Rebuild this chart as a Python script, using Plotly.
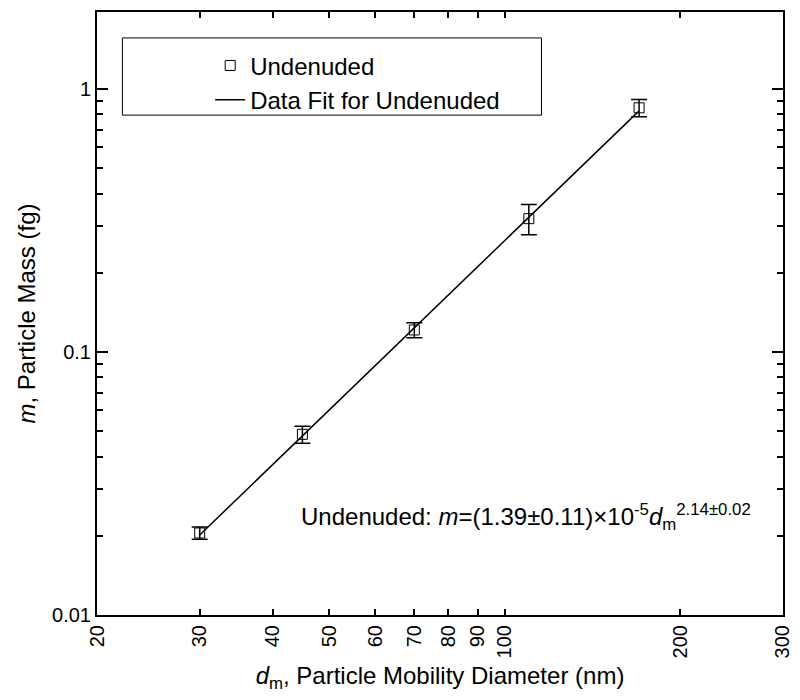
import plotly.graph_objects as go

# Measured particle mass vs mobility diameter (undenuded particles)
diameter_nm = [30, 45, 70, 110, 170]
mass_fg = [0.0205, 0.0486, 0.1212, 0.321, 0.847]
mass_err = [0.0011, 0.0036, 0.0080, 0.042, 0.063]

# Power-law fit m = a * d^b, evaluated over the measured diameter span
fit_coef = 1.39e-5
fit_exp = 2.14
fit_d = [30, 170]
fit_m = [fit_coef * d ** fit_exp for d in fit_d]

x_tick_vals = [20, 30, 40, 50, 60, 70, 80, 90, 100, 200, 300]
x_tick_text = ["20", "30", "40", "50", "60", "70", "80", "90", "100", "200", "300"]
y_tick_vals = [0.01, 0.1, 1]
y_tick_text = ["0.01", "0.1", "1"]
y_minor_vals = [k * 10 ** e for e in (-2, -1) for k in range(2, 10)]

FONT = "Liberation Sans, Arial, sans-serif"

fig = go.Figure()

fig.add_trace(go.Scatter(
    x=diameter_nm, y=mass_fg,
    mode="markers",
    name="Undenuded",
    marker=dict(symbol="square-open", size=10, color="black",
                line=dict(width=1, color="black")),
    error_y=dict(type="data", array=mass_err, visible=True,
                 color="black", thickness=1.5, width=8),
))

fig.add_trace(go.Scatter(
    x=fit_d, y=fit_m,
    mode="lines",
    name="Data Fit for Undenuded",
    line=dict(color="black", width=1.5),
))

axis_common = dict(
    showline=True, linecolor="black", linewidth=2,
    mirror="ticks", ticks="inside", tickcolor="black", tickwidth=1.5,
    showgrid=False, zeroline=False,
    ticklabeloverflow="allow",
    tickfont=dict(family=FONT, size=20, color="black"),
)

fig.update_xaxes(
    type="log",
    range=[1.30103, 2.4772],
    tickmode="array", tickvals=x_tick_vals, ticktext=x_tick_text,
    tickangle=-90, ticklen=6,
    title=dict(text="<i>d</i><sub>m</sub>, Particle Mobility Diameter (nm)",
               font=dict(family=FONT, size=24, color="black"), standoff=10),
    **axis_common,
)

fig.update_yaxes(
    type="log",
    range=[-2, 0.292],
    tickmode="array", tickvals=y_tick_vals, ticktext=y_tick_text,
    ticklen=11,
    minor=dict(tickmode="array", tickvals=y_minor_vals, ticks="inside",
               ticklen=6, tickcolor="black", tickwidth=1.5),
    title=dict(text="<i>m</i>, Particle Mass (fg)",
               font=dict(family=FONT, size=24, color="black"), standoff=10),
    **axis_common,
)

# Legend frame
fig.add_shape(type="rect", xref="paper", yref="paper",
              x0=0.037, x1=0.648, y0=0.829, y1=0.957,
              line=dict(color="black", width=1), fillcolor="rgba(0,0,0,0)")

fig.add_annotation(
    xref="paper", yref="paper", x=0.294, y=0.1625,
    xanchor="left", yanchor="middle", showarrow=False,
    text="Undenuded: <i>m</i>=(1.39±0.11)×10<sup>-5</sup><i>d</i><sub>m</sub><sup>2.14±0.02</sup>",
    font=dict(family=FONT, size=24, color="black"),
)

fig.update_layout(
    width=800, height=700,
    margin=dict(l=97, r=7, t=12, b=85),
    paper_bgcolor="white", plot_bgcolor="white",
    font=dict(family=FONT, color="black"),
    legend=dict(x=0.165, y=0.948, xanchor="left", yanchor="top",
                bgcolor="rgba(0,0,0,0)", borderwidth=0,
                font=dict(family=FONT, size=24, color="black"),
                tracegroupgap=0),
)

fig.write_html("out.html")
